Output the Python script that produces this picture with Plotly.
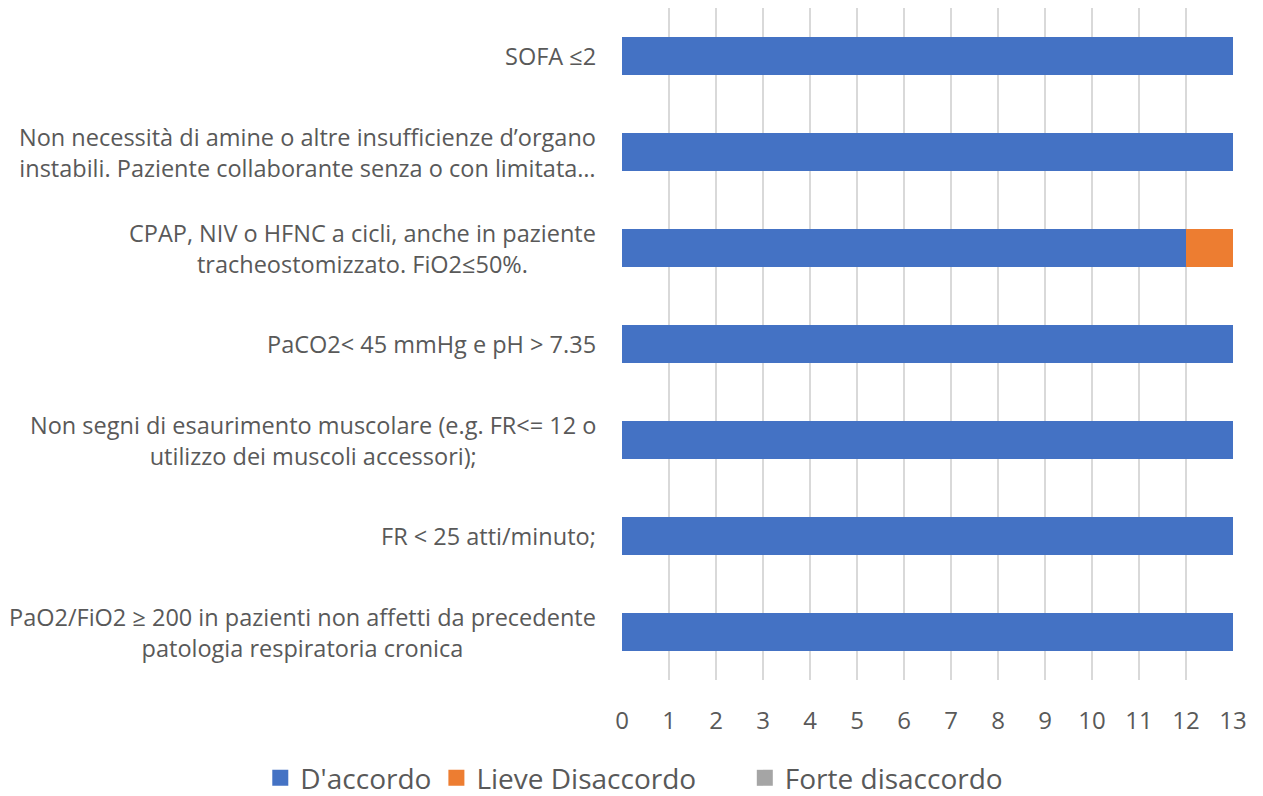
import plotly.graph_objects as go

# categories listed bottom to top
categories = [
    "PaO2/FiO2 ≥ 200",
    "FR < 25",
    "Non segni di esaurimento",
    "PaCO2< 45",
    "CPAP, NIV o HFNC",
    "Non necessità di amine",
    "SOFA ≤2",
]
category_labels = [
    "PaO2/FiO2 ≥ 200 in pazienti non affetti da precedente<br>patologia respiratoria cronica",
    "FR < 25 atti/minuto;",
    "Non segni di esaurimento muscolare (e.g. FR<= 12 o<br>utilizzo dei muscoli accessori);",
    "PaCO2< 45 mmHg e pH > 7.35",
    "CPAP, NIV o HFNC a cicli, anche in paziente<br>tracheostomizzato. FiO2≤50%.",
    "Non necessità di amine o altre insufficienze d’organo<br>instabili. Paziente collaborante senza o con limitata…",
    "SOFA ≤2",
]
series_names = ["D'accordo", "Lieve Disaccordo", "Forte disaccordo"]
series_colors = ["#4472C4", "#ED7D31", "#A5A5A5"]
d_accordo = [13, 13, 13, 13, 12, 13, 13]
lieve_disaccordo = [0, 0, 0, 0, 1, 0, 0]
forte_disaccordo = [0, 0, 0, 0, 0, 0, 0]
x_ticks = list(range(0, 14))

# extra spacing after legend entries (Excel spaces them unevenly)
legend_pad = ["", "\u00a0" * 6, ""]

fig = go.Figure()
for name, color, vals, pad in zip(series_names, series_colors,
                                  [d_accordo, lieve_disaccordo, forte_disaccordo], legend_pad):
    fig.add_trace(go.Bar(y=categories, x=vals, orientation="h", name=name,
                         marker=dict(color=color, line=dict(width=0)), showlegend=False))
    # legend-only entry with a larger square swatch
    fig.add_trace(go.Scatter(x=[None], y=[None], mode="markers", name=name + pad,
                             marker=dict(symbol="square", size=16, color=color)))

# category labels as annotations (centered lines, right-anchored block)
for cat, lab in zip(categories, category_labels):
    fig.add_annotation(x=0, xref="paper", y=cat, yref="y", text=lab, showarrow=False,
                       xanchor="right", xshift=-24, align="center",
                       font=dict(size=23.5, color="#595959", family="Open Sans"))

fig.update_layout(
    barmode="stack",
    bargap=0.6,
    width=1255, height=788,
    margin=dict(l=614, r=30, t=0, b=116, autoexpand=False),
    paper_bgcolor="white", plot_bgcolor="white",
    font=dict(family="Open Sans", color="#595959"),
    legend=dict(orientation="h", xref="paper", yref="paper",
                x=-0.592, xanchor="left", y=-0.146, yanchor="middle",
                font=dict(size=28), traceorder="normal"),
)
fig.update_xaxes(range=[0, 13], tickvals=x_ticks, showgrid=True, gridcolor="#D9D9D9",
                 gridwidth=1.5, zeroline=False, showline=False,
                 tickfont=dict(size=24), ticklabelstandoff=24)
fig.update_yaxes(showgrid=False, zeroline=False, showline=False, showticklabels=False)

fig.write_html("out.html")
